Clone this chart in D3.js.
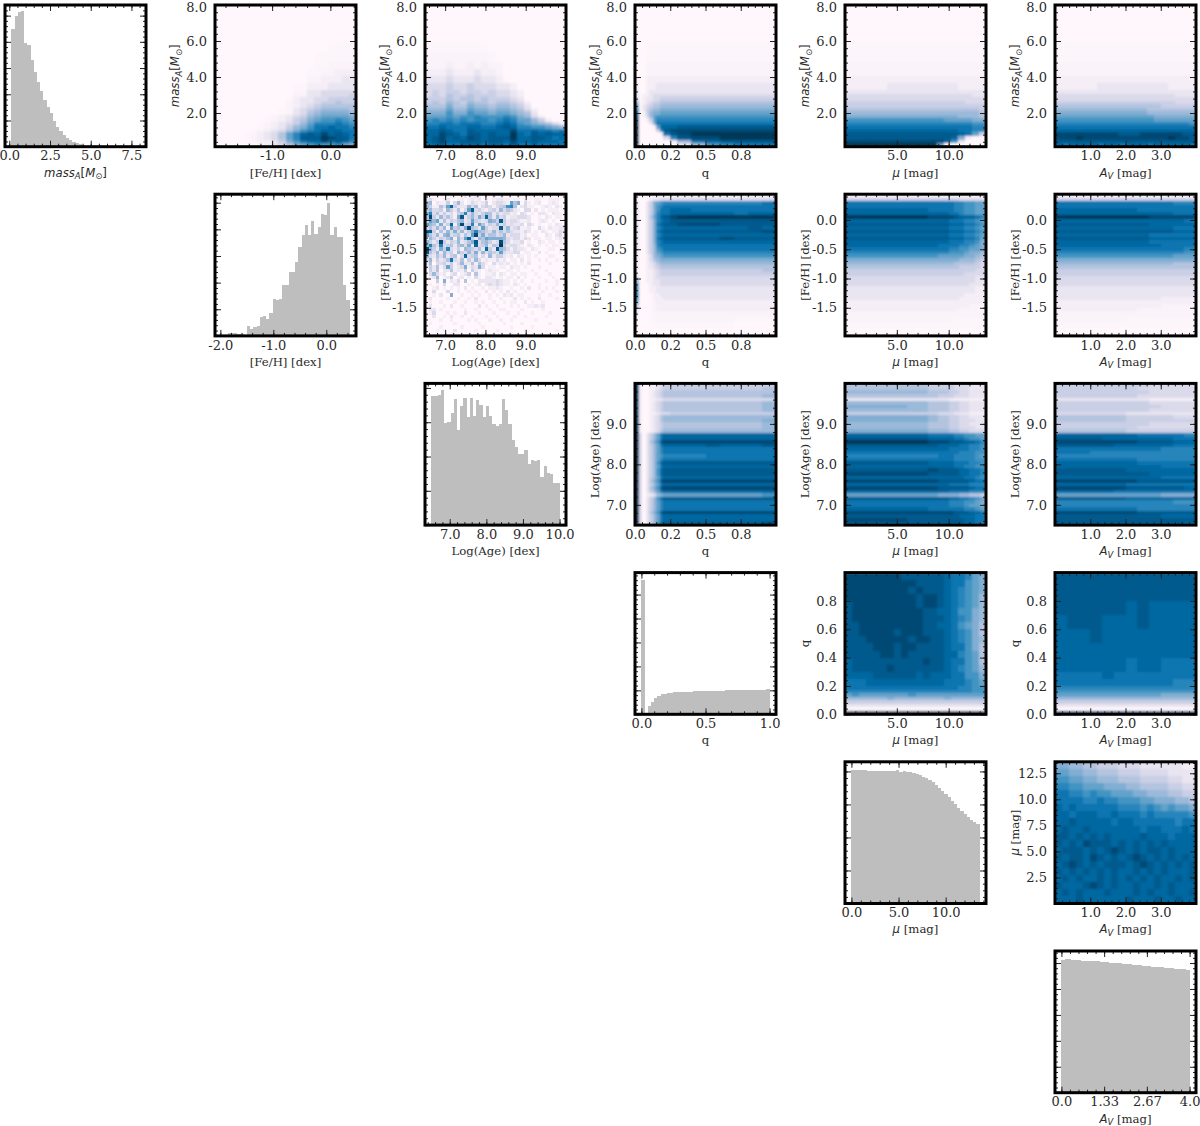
<!DOCTYPE html>
<html>
<head>
<meta charset="utf-8">
<script src="https://cdn.jsdelivr.net/npm/d3@7"></script>
<style>
  body { margin: 0; background: #fff; }
  text { font-family: "DejaVu Serif", serif; fill: #2a2a2a; }
</style>
</head>
<body>
<div id="chart"></div>
<script>
// axis ranges
const massRange = [0.13, 8];
const fehRange = [-1.98, 0.44];
const ageRange = [6.5, 10];
const qRange = [0, 1];
const muRange = [0, 13.6];
const avRange = [0, 4];

// bin edges where the heat maps were read unevenly
const massEdges = [0.13, 0.33, 0.52, 0.72, 0.92, 1.11, 1.31, 1.51, 1.71, 1.90, 2.10, 2.30, 2.49, 2.69, 2.89, 3.08, 3.28, 3.67, 4.07, 4.46, 4.86, 5.4, 6, 7, 8];
const qEdges = [0, .025, .05, .075, .1, .125, .15, .175, .2, .25, .3, .4, .5, .6, .7, .8, .9, 1];
const qRowEdges = [0, .025, .05, .075, .1, .125, .15, .175, .2, .25, .3, .35, .4, .45, .5, .55, .6, .65, .7, .75, .8, .85, .9, .95, 1];
const muEdges = [0, 4, 6, 8, 9, 10, 10.5, 11, 11.5, 12, 12.5, 13, 13.6];

// histograms, height as percent of the panel
const massHist = [83, 92, 95, 95.5, 73, 72, 61, 53, 46, 39, 33, 28, 24, 18, 14, 11, 8, 6, 4.7, 3.5, 2.4, 1.9, 1.2, .7, .4, .3, .2, .1, .1, .1, .1, .1, 0, 0, 0, 0, 0, 0, 0, 0];
const fehHist = [0, 0, 2.3, 2.3, 2, 1.5, 1, .5, 7, 5, 6, 7, 13, 14, 12, 16, 26, 25, 26, 36, 36, 45, 45, 52, 63, 71, 78, 71, 81, 72, 77, 86, 85, 94, 71, 77, 70, 70, 36, 25];
const ageHist = [91, 91, 92, 95, 72, 73, 79, 89, 67, 84, 90, 76, 90, 77, 88, 85, 76, 84, 77, 71, 70, 71, 89, 81, 71, 60, 55, 50, 50, 53, 43, 46, 45, 46, 34, 42, 37, 36, 30, 30];
const qHist = [95, 0, 6, 9, 11.5, 13, 14, 14.5, 15, 15.2, 15.4, 15.6, 15.7, 15.8, 15.9, 16, 16.1, 16.2, 16.3, 16.4, 16.4, 16.5, 16.6, 16.6, 16.7, 16.7, 16.8, 16.8, 16.9, 16.9, 17, 17, 17, 17.1, 17.1, 17.2, 17.2, 17.3, 17.3, 17.6];
const muHist = [94, 94.3, 94.1, 94, 94, 93.8, 93.8, 93.6, 93.7, 93.6, 93.6, 93.4, 93.5, 93.3, 94.5, 93, 93.4, 93, 92.5, 92, 91.3, 90.7, 89.5, 88.5, 87.2, 85.5, 83.5, 81.5, 79.5, 77.5, 75, 72.5, 70, 67.5, 65, 63, 61, 59, 57.5, 56];
const avHist = [94, 94.3, 94.2, 93.8, 93.6, 93.7, 93.2, 93, 93.1, 92.8, 92.6, 92.6, 92.3, 92, 92.1, 91.7, 91.5, 91.4, 91.2, 90.9, 90.9, 90.5, 90.1, 90.3, 89.9, 89.6, 89.6, 89.2, 89, 88.9, 88.6, 88.5, 88.2, 87.9, 88, 87.5, 87.2, 87.2, 87, 86.7];

// heat maps: one string per row from the top, one level per column
// levels are hex 0-f, g and h are the faint steps between 0 and 1
const massFeh = [
  "00000000000000000000", "00000000000000000000", "0000000000000000gggg", "00000000000000gggggg",
  "00000000000000gghhhh", "0000000000000gghh111", "0000000000000hh11122", "00000000000gg1112222",
  "00000000000hh2233333", "00000000000hh2233334", "0000000000g122334444",
  "0000000000h122344544", "0000000000h123455555", "000000000gh234566665", "000000000gh235677776",
  "0000000gh12346788887", "0000000gh12457899a98", "000000gh123468aaaba9", "000000gh124679bbcbba",
  "00000gh123579abcccbb", "0000gh12358acdcecdcb", "0000gh12358adddfeddb", "0000gh112479bccecdca",
  "00000gh1235789a99a87"];
const massAge = [
  "00000000000000000000", "00000000000000000000", "ggggggggg00000000000", "hhhhhhhhhg0000000000",
  "hhh1hh1h1hh000000000", "1112111211h000000000", "22232223221g00000000", "33343343332210000000",
  "34344344343321000000", "34354454443321000000", "44454554544432000000",
  "45465465545543100000", "55575576656654200000", "66686687767765310000", "77797798878876520000",
  "8889899a999a97631000", "9a9a9a9aa9aba8864100", "aabbabbbaabcb9876531", "bbcbbbccbbcdcaa99876",
  "ccdcbbdcccccebbcbbab", "ccedcbddcdccfcbdcdcc", "cdecdcedcdddfccddcbc", "cdeccdddcddceccdcccb",
  "bcdbbcccbccbdbbcbbbb"];
const massQ = [
  "00000000000000000", "00000000000000000", "000gggggggggggggg", "000gggggggggggggg",
  "000hhhhhhhhhhhhhh", "000hhhhhhhhhhhhhh", "10011111111111111", "10011122222222222",
  "20012222222222222", "20112333333333333", "30122334444444444",
  "60123445555555555", "80234556666666666", "a0245667777777777", "c0146778888888888",
  "d0136899999999999", "e00148aaaaaaaaaaa", "e00027bbbbbbbbbbb", "f000018cccddddddd",
  "f000004adeeeeeeee", "f0000001bdeffffff", "f00000003adeeffff", "f0000000016bcdddd",
  "f000000000269abbb"];
const massMu = [
  "00000000000000000000", "00000000000000000000", "gggggggggggggggggggg", "gggggggggggggggggggg",
  "hhhhhhhhhhhhhhhhhhhh", "hhhhhhhhhhhhhhhhhhhh", "11111111111111111111", "11111122222222221111",
  "22222222222222222222", "33333333333333333322", "33333333333333333333",
  "44444444444444444333", "44444444444444444444", "55555555555555555554", "66666666666666666665",
  "77777777777777776665", "99999999999999888877", "aaaaaaaaaaaaaaaaaa99", "bbbbbbbbbbbbbbbbbbaa",
  "ccccccccccccccccbbaa", "ddddddddddddddddcb84", "dddddddddddddddc7100", "eeeeeeeeeeeeeec92000",
  "fffffffffffff8000000"];
const massAv = [
  "00000000000000000000", "00000000000000000000", "gggggggggggggggggggg", "gggggggggggggggggggg",
  "hhhhhhhhhhhhhhhhhhhh", "hhhhhhhhhhhhhhhhhhhh", "11111111111111111111", "11111122222222221111",
  "22222222222222222222", "33333333333333333222", "33333333333333333333",
  "44444444444444444333", "55555555555555544444", "66666666666665555555", "77777777777776666666",
  "88888888888888777777", "99999999999999888888", "aaaaaaaaaaaaaaaaaaa9", "bbbbbbbbbbbbbbbbbbbb",
  "cccccccccccccccccccc", "eeeeeeeeedddeeeeeedd", "eeefeeeeeeeeeeeefeed", "dddddddddddddddddddd",
  "cbccccbccbcccbcccccb"];
const fehAge = [
  "0001000100020121000101000010000000000000", "2310012001101212010122110110100110011100",
  "5602114036201321240233218570310120012100", "6411538c4222635134313459a502311001210210",
  "4633416425138d34213426354210330201011100", "7a352423145a3632465242331203201022102110",
  "5e42635317d246374c5263412233320010210110", "486825243562384323764d423321120012101000",
  "8652724c16e34a28524363423223032010010210", "353636184537e54284233d362341120031021122",
  "cd415263736247a6543635353221320102101132", "85362673452538e4735534623331201100210231",
  "264243571638c426587777632331320110110121", "6424e424362357d356423e531223010021011010",
  "6a53a345256372c346254f423321021010101100", "e64274a3241654352c42d6531322102100011010",
  "d536263416436372635438322330110020100010", "63253624513c3451316244212021010100011000",
  "3614235b32514263121131201102010010100100", "2503342413622515310312120101020000010000",
  "1425138412371327301101102110100010000000", "0425022512140421012110011010001000100000",
  "0363120230124051011202101101100100010000", "0126012401201031022101011020100010001000",
  "0004070213050102222232110101001000100100", "0101030022001012023232110210100010000100",
  "0012010101020100101121001001020010101000", "0030003001001010020101020100100001000100",
  "0010200700100101001010212011000010010000", "0200001001001020001001000201010020000100",
  "0100100010010010100100101100201001000000", "0200010200100002010010001010011212000000",
  "0220100000010010001001100001000001000000", "0130001010020001000100010010001000010000",
  "0020010200100100010010000100100000100000", "0000100100001010001001001000000100000000",
  "0100000010000001000000100001000000010000", "0000100000100000100000001000001000000000",
  "0001010020000010000010000000100000000100", "0000000100000000100000001000000000000000"];
const fehQ = [
  "000gg111111111111", "10001223333333333", "20024789aaaaaaaab", "2002479abbbbbbbbb",
  "2002479bbccbbbbbb", "200247abbcccccbcc", "200258acdefffffff", "200247abcdddddddd",
  "200247bcddeeedddd", "200247abcccccccdc", "200247bcdddddddde", "200247abccccccccc",
  "200247bcdddddeddd", "200247abccccccccc", "200246abbbbbbbbbb", "2002469abbbbbbbbb",
  "20024689aaaaaaaaa", "20013678999999999", "20013567777777777", "10012356666666666",
  "10012345555555555", "10011234444444445", "10011234444444444", "30011233333333333",
  "60011223333333333", "80001223333333333", "90001122222222222", "90001122222222222",
  "a000g112222222222", "9000g111222222222", "7000gh11111111111", "4000gh11111111111",
  "2000gh11111111111", "1000ghhhhhhhhhhhh", "0000ghhhhhhhhhhhh", "0000gghhhhhhhhggg",
  "0000gggggggggg000", "00000ggggggggg000", "00000000000000000", "00000000000000000"];
const fehMu = [
  "111111111111", "444444433333", "bbbbbbaa9988", "bbbbbbaa9988", "cccbbbaa9988", "cccccbba9988",
  "fffeeedcccba", "cccccbbbaa98", "dddddcccbba9", "cccccbbbaa98", "dddddcccbba9", "cccccbbbaa98",
  "dddddcccbba8", "cccccbbbaa97", "ccccbbbaa987", "bbbbbaa99887", "aaaaa9998776", "999988887765",
  "777777766654", "666666555543", "555555544443", "444444444433", "444444443333", "333333333322",
  "333333333322", "333333333222", "222222222211", "222222222211", "222222221111", "222222211111",
  "111111111111", "111111111hhh", "1111111hhhhh", "hhhhhhhhhhhh", "hhhhhhhhhhhh", "hhhhhhgggggg",
  "gggggggggggg", "gggggggggggg", "000000000000", "000000000000"];
const fehAv = [
  "111111111111", "444444444444", "bbbbbbbbbbaa", "bbbbbbbbbbbb", "cccccccbbbbb", "ccccccccccbb",
  "ffffffffeeee", "cccccccccccb", "ddddddddcccc", "ccccccccccbb", "ddddddddddcc", "ccccccccbbbb",
  "ddddddddcccc", "ccccccccbbbb", "cccccccccbbb", "bbbbbbbbbbba", "aaaaaaaaaaa9", "999999999988",
  "777777777777", "666666666655", "555555555555", "444444444444", "444444444444", "333333333333",
  "333333333333", "333333333333", "222222222222", "222222222222", "222222222222", "222222222111",
  "111111111111", "111111111hhh", "1111111hhhhh", "hhhhhhhhhhhh", "hhhhhhhhhhhh", "hhhhhhgggggg",
  "gggggggggggg", "gggggggggggg", "000000000000", "000000000000"];
const ageQ = [
  "e1001123444444444", "e1001123444444445", "e1001234555555555", "e1001234555555556",
  "e1001122333333333", "e1001234555555556", "e1001234555555556", "e1001234555555556",
  "e1001123344444444", "e1001235666666666", "e1001235666666667", "e1001234555555556",
  "e1001234555555556", "e1001235666666666", "f302468bccccccccc", "f302468bccccccccc",
  "f302579deeeeeeeee", "f302468bccccdcccd", "f302468abbbbbbbbb", "f302468abbbbbbbbb",
  "f3024689aaaabbbbb", "f302468abbbbbbbbb", "f302469cddddddddd", "f302468bccccccccc",
  "f302469cddddddddd", "f302469cddddddddd", "f302468bccccccccc", "f302579deeeeeeeee",
  "f302468bccccccccc", "f302579deeeeeeeee", "f302468bccccccccc", "f3012367888888889",
  "f302469cddddddddd", "f302468abbbbbbbbb", "f302468abbbbbbbbb", "f302468abbbbbbbbb",
  "f302579deeeeeeeee", "f302468bccccccccc", "f302468bccccccccc", "f302469cdddddddde"];
const ageMu = [
  "555444333222", "555444333222", "666554433222", "555544333222", "222221111111", "666554433222",
  "776554433222", "666554433222", "444433222111", "777654433222", "777654433322", "666554433222",
  "666554433322", "777665544333", "cccbbbaa9988", "dddcccbba998", "fffeedddccba", "ddddcccbbaa9",
  "cccccbbbbaa9", "bbbbbbbaaa99", "aaaabbaaaa98", "bbbbbbaaaa99", "dddcccbbbaa9", "ccccccbbaa99",
  "dddedddccbba", "eeeddddccbba", "ccccccccbba9", "eeeedddddcbb", "cccccbbbbaaa", "eeeedddddcbb",
  "cccccbbbbaaa", "888877766554", "dddddccbba98", "bbbbbaaa9987", "bbbbbaaa9887", "cccbbbbbaa98",
  "eeeeeedddccb", "dddddddcccbb", "eeddddddccbb", "ddddddddccba"];
const ageAv = [
  "444444443333", "444444433333", "444444443333", "444444433333", "222222221111", "444444443333",
  "444444444333", "444444443333", "333333222222", "555555444433", "555555444444", "444444443333",
  "444444433333", "555555444444", "cccccccbbbba", "ddddccccccbb", "eeeeeeedddcc", "dddddcccccbb",
  "bbbbbbbbbaaa", "bbbaaaaaaaaa", "aaaaaaaaaaaa", "bbbbbbbaaaaa", "cccccccbbbbb", "cccccccccbbb",
  "ddddddcccccc", "ddddddddcccc", "cccccccccbbb", "eeeeeeeddddd", "ccccccbbbbbb", "eeeeeedddddc",
  "cccccbbbbbbb", "888888888777", "ddddddcccccc", "aaaaaaaaaa99", "aaaaaaaaaaaa", "bbbbbbbaaaaa",
  "eeeeeeeddddd", "dddddddddccc", "dddddddddddd", "dddddddddddc"];
const qMu = [
  "eeeeeeeeddddddcbba87", "eeeeeeeeeeddddcbb987", "eeeeeeeeededddcba987", "eeeeeeeeeedeedcba986",
  "deeeeeeeeedeedcba986", "deeeeeeeeeeddccb9976", "deeeeeeeeeedddcba976", "ddeeeeeeeeeddccb9875",
  "ddeeeeedeeedddcba975", "dddeeeeeedeeddcba976", "ddddeeedeeddddcbb975", "dddddeededddddcca985",
  "cddddddddddeddcbb985", "cdddddedddddddcba986", "ccccddddddcdcccbb997", "bbbcccccccccccbbba98",
  "bbbbbbbbbbbbbbbbaa99", "aaaaaaaaaaaaaaaaaa99", "89888888898888888888", "66666676666666766666",
  "44444444444444444444", "22222222222222222222", "gggggggggggggggggggg", "ffffffffffffffffffff"];
const qAv = [
  "dddddddddddd", "dddddddddddd", "ddddddcdcccc", "cdddcccdcccc", "cccdcccccccc", "cccccccccccc",
  "ccccccbccbbb", "bbbbcbbbbbbb", "bbbbbbbbbbaa", "aaaaaaaaaaaa", "999999999999", "888888888777",
  "666666666666", "444444444444", "222222222222", "gggggggggggg", "eeeeeeeeeeee"];
const muAv = [
  "77665544433322222211", "88776655544433332222", "99887766655544443322", "aa998887776655554433",
  "bbaa9a99888776665544", "bbbbaabaa99988777665", "cbcbbbbbbaaa9a989887", "ccbcccbbcbbbabaaaaa9",
  "ccdcccccbccbbbbbbabb", "cdccdcccccccbccbbbcb", "ddcdcdcdccccdcccbccc", "dcdcedddcdcdcdcdcccc",
  "cdddcdcdedcdcddcdccc", "dcddcedcdcdedcdcdcdc", "cdedcdcdddcdedcdcdcd", "dcdcdcdcdccdcdcdcccd",
  "cdcdccdcdcdcdcdccdcd", "dcccdedcdccdccdcdccc", "cdcdcccdcccdcdccdccd", "cccdccccccdcccdccdcc"];

// tick values and labels
const massLabel = [{ t: "mass", i: 1 }, { t: "A", i: 1, sub: 1 }, { t: "[", }, { t: "M", i: 1 }, { t: "⊙", sub: 1 }, { t: "]" }];
const fehLabel = [{ t: "[Fe/H] [dex]", serif: 1 }];
const ageLabel = [{ t: "Log(Age) [dex]", serif: 1 }];
const qLabel = [{ t: "q", serif: 1 }];
const muLabel = [{ t: "μ", i: 1 }, { t: " [mag]", serif: 1 }];
const avLabel = [{ t: "A", i: 1 }, { t: "V", i: 1, sub: 1 }, { t: " [mag]", serif: 1 }];

const axes = {
  mass: { range: massRange, edges: massEdges, label: massLabel, ticks: [2, 4, 6, 8], names: ["2.0", "4.0", "6.0", "8.0"], minor: .4 },
  feh: { range: fehRange, label: fehLabel, ticks: [-1, 0], names: ["-1.0", "0.0"], minor: .2,
    yTicks: [-1.5, -1, -.5, 0], yNames: ["-1.5", "-1.0", "-0.5", "0.0"], yMinor: .1 },
  age: { range: ageRange, label: ageLabel, ticks: [7, 8, 9], names: ["7.0", "8.0", "9.0"], minor: .2 },
  q: { range: qRange, edges: qEdges, label: qLabel, ticks: [0, .25, .5, .75], names: ["0.0", "0.2", "0.5", "0.8"], minor: .05,
    yTicks: [0, .2, .4, .6, .8], yNames: ["0.0", "0.2", "0.4", "0.6", "0.8"], yMinor: .04 },
  mu: { range: muRange, edges: muEdges, label: muLabel, ticks: [5, 10], names: ["5.0", "10.0"], minor: 1,
    yTicks: [2.5, 5, 7.5, 10, 12.5], yNames: ["2.5", "5.0", "7.5", "10.0", "12.5"], yMinor: .5 },
  av: { range: avRange, label: avLabel, ticks: [1, 2, 3], names: ["1.0", "2.0", "3.0"], minor: .2 }
};

const histPanels = [
  { key: "mass", col: 0, row: 0, data: massHist, ticks: [0, 2.5, 5, 7.5], names: ["0.0", "2.5", "5.0", "7.5"], minor: .5, step: 18.5 },
  { key: "feh", col: 1, row: 1, data: fehHist, ticks: [-2, -1, 0], names: ["-2.0", "-1.0", "0.0"], minor: .2, step: 18.8 },
  { key: "age", col: 2, row: 2, data: ageHist, ticks: [7, 8, 9, 10], names: ["7.0", "8.0", "9.0", "10.0"], minor: .2, step: 24.2 },
  { key: "q", col: 3, row: 3, data: qHist, ticks: [0, .5, 1], names: ["0.0", "0.5", "1.0"], minor: .1, step: 16.9 },
  { key: "mu", col: 4, row: 4, data: muHist, ticks: [0, 5, 10], names: ["0.0", "5.0", "10.0"], minor: 1, step: 23.3 },
  { key: "av", col: 5, row: 5, data: avHist, ticks: [0, 1.333, 2.667, 4], names: ["0.0", "1.33", "2.67", "4.0"], minor: .2667, step: 18.3 }
];

const heatPanels = [
  { x: "feh", y: "mass", col: 1, row: 0, rows: massFeh },
  { x: "age", y: "mass", col: 2, row: 0, rows: massAge },
  { x: "q", y: "mass", col: 3, row: 0, rows: massQ },
  { x: "mu", y: "mass", col: 4, row: 0, rows: massMu },
  { x: "av", y: "mass", col: 5, row: 0, rows: massAv },
  { x: "age", y: "feh", col: 2, row: 1, rows: fehAge, crisp: true },
  { x: "q", y: "feh", col: 3, row: 1, rows: fehQ },
  { x: "mu", y: "feh", col: 4, row: 1, rows: fehMu },
  { x: "av", y: "feh", col: 5, row: 1, rows: fehAv },
  { x: "q", y: "age", col: 3, row: 2, rows: ageQ },
  { x: "mu", y: "age", col: 4, row: 2, rows: ageMu },
  { x: "av", y: "age", col: 5, row: 2, rows: ageAv },
  { x: "mu", y: "q", col: 4, row: 3, rows: qMu, yEdges: qRowEdges },
  { x: "av", y: "q", col: 5, row: 3, rows: qAv },
  { x: "av", y: "mu", col: 5, row: 4, rows: muAv }
];

// layout
const W = 1200, H = 1126;
const panelW = 141, panelH = 141.7;
const colStep = 210, rowStep = 189.2;
const tickFont = 13, labelFont = 11.7;

const svg = d3.select("#chart").append("svg").attr("width", W).attr("height", H);
const color = d3.scaleSequential(d3.interpolatePuBu).domain([0, 15]);
const faintLevels = { g: .25, h: .5 };

const defs = svg.append("defs");
const soft = defs.append("filter").attr("id", "soft")
  .attr("x", 0).attr("y", 0).attr("width", 1).attr("height", 1);
soft.append("feGaussianBlur").attr("stdDeviation", .8).attr("edgeMode", "duplicate");

function evenEdges(range, n) {
  return d3.range(n + 1).map(i => range[0] + (range[1] - range[0]) * i / n);
}

function level(c) {
  return c in faintLevels ? faintLevels[c] : parseInt(c, 16);
}

function minorTicks(scale, step, anchor) {
  const [a, b] = scale.domain();
  const start = anchor + Math.ceil((a - anchor) / step - 1e-6) * step;
  return d3.range(start, b + 1e-6, step);
}

function panel(col, row) {
  return svg.append("g").attr("transform", `translate(${5 + col * colStep},${5 + row * rowStep})`);
}

function setLabel(sel, parts) {
  parts.forEach((p, i) => {
    const span = sel.append("tspan").text(p.t)
      .style("font-family", p.serif ? '"DejaVu Serif"' : '"DejaVu Sans"')
      .style("font-style", p.i ? "italic" : "normal");
    if (p.sub) span.attr("dy", 2.5).attr("font-size", labelFont * .72);
    else if (i > 0 && parts[i - 1].sub) span.attr("dy", -2.5);
  });
}

function drawFrame(g, x, y, opt) {
  const addAxis = (axisFn, scale, values, size, names, pos) => {
    const axis = axisFn(scale).tickValues(values).tickSizeInner(-size).tickSizeOuter(0)
      .tickPadding(axisFn === d3.axisBottom ? 4.5 : 8)
      .tickFormat(names ? (d, i) => names[i] : "");
    const a = g.append("g").attr("transform", `translate(${pos[0]},${pos[1]})`).call(axis);
    a.select(".domain").remove();
    a.selectAll("line").attr("stroke", "#222").attr("stroke-width", 1);
    a.selectAll("text").style("font-size", tickFont + "px");
    // top label of the left axis would leave the page
    if (axisFn === d3.axisLeft) a.selectAll("text").filter(d => scale(d) < 1).attr("dy", "0.5em");
  };
  const xMinor = minorTicks(x, opt.xMinor, opt.xTicks[0]);
  const yMinor = minorTicks(y, opt.yMinor, opt.yTicks[0]);
  [[xMinor, 3], [opt.xTicks, 6]].forEach(([v, size], k) => {
    addAxis(d3.axisBottom, x, v, size, k ? opt.xNames : null, [0, panelH]);
    addAxis(d3.axisTop, x, v, size, null, [0, 0]);
  });
  [[yMinor, 3], [opt.yTicks, 6]].forEach(([v, size], k) => {
    addAxis(d3.axisLeft, y, v, size, k ? opt.yNames : null, [0, 0]);
    addAxis(d3.axisRight, y, v, size, null, [panelW, 0]);
  });
  g.append("rect").attr("width", panelW).attr("height", panelH)
    .attr("fill", "none").attr("stroke", "#000").attr("stroke-width", 3);
  const xl = g.append("text").attr("x", panelW / 2).attr("y", panelH + 30)
    .attr("text-anchor", "middle").attr("font-size", labelFont);
  setLabel(xl, opt.xLabel);
  if (opt.yLabel) {
    const yl = g.append("text").attr("transform", `translate(-36,${panelH / 2}) rotate(-90)`)
      .attr("text-anchor", "middle").attr("font-size", labelFont);
    setLabel(yl, opt.yLabel);
  }
}

function drawHist(p) {
  const ax = axes[p.key];
  const pad = (ax.range[1] - ax.range[0]) * .05;
  const x = d3.scaleLinear().domain([ax.range[0] - pad, ax.range[1] + pad]).range([0, panelW]);
  const y = d3.scaleLinear().domain([0, 100]).range([panelH, 0]);
  const edges = evenEdges(ax.range, p.data.length);
  const g = panel(p.col, p.row);
  g.selectAll("rect.bar").data(p.data).join("rect").attr("class", "bar")
    .attr("x", (d, i) => x(edges[i]))
    .attr("width", (d, i) => x(edges[i + 1]) - x(edges[i]))
    .attr("y", d => y(d))
    .attr("height", d => y(0) - y(d))
    .attr("fill", "#bebebe")
    .attr("shape-rendering", "crispEdges");
  drawFrame(g, x, y, {
    xTicks: p.ticks, xNames: p.names, xMinor: p.minor, xLabel: ax.label,
    yTicks: d3.range(0, 100, p.step), yMinor: p.step / 5
  });
}

function drawHeat(p) {
  const ax = axes[p.x], ay = axes[p.y];
  const x = d3.scaleLinear().domain(ax.range).range([0, panelW]);
  const y = d3.scaleLinear().domain(ay.range).range([panelH, 0]);
  const nCol = p.rows[0].length, nRow = p.rows.length;
  const xe = ax.edges && ax.edges.length === nCol + 1 ? ax.edges : evenEdges(ax.range, nCol);
  const rowEdges = p.yEdges || ay.edges;
  const ye = rowEdges && rowEdges.length === nRow + 1 ? rowEdges : evenEdges(ay.range, nRow);
  const cells = [];
  p.rows.forEach((r, i) => {
    d3.range(nCol).forEach(j => {
      cells.push({ v: level(r[j] || r[r.length - 1]), j, k: nRow - 1 - i });
    });
  });
  const g = panel(p.col, p.row);
  g.append("g").attr("filter", p.crisp ? null : "url(#soft)")
    .selectAll("rect").data(cells).join("rect")
    .attr("x", d => x(xe[d.j]))
    .attr("width", d => x(xe[d.j + 1]) - x(xe[d.j]))
    .attr("y", d => y(ye[d.k + 1]))
    .attr("height", d => y(ye[d.k]) - y(ye[d.k + 1]))
    .attr("fill", d => color(d.v))
    .attr("shape-rendering", "crispEdges");
  drawFrame(g, x, y, {
    xTicks: ax.ticks, xNames: ax.names, xMinor: ax.minor, xLabel: ax.label,
    yTicks: ay.yTicks || ay.ticks, yNames: ay.yNames || ay.names, yMinor: ay.yMinor || ay.minor, yLabel: ay.label
  });
}

histPanels.forEach(drawHist);
heatPanels.forEach(drawHeat);
</script>
</body>
</html>
